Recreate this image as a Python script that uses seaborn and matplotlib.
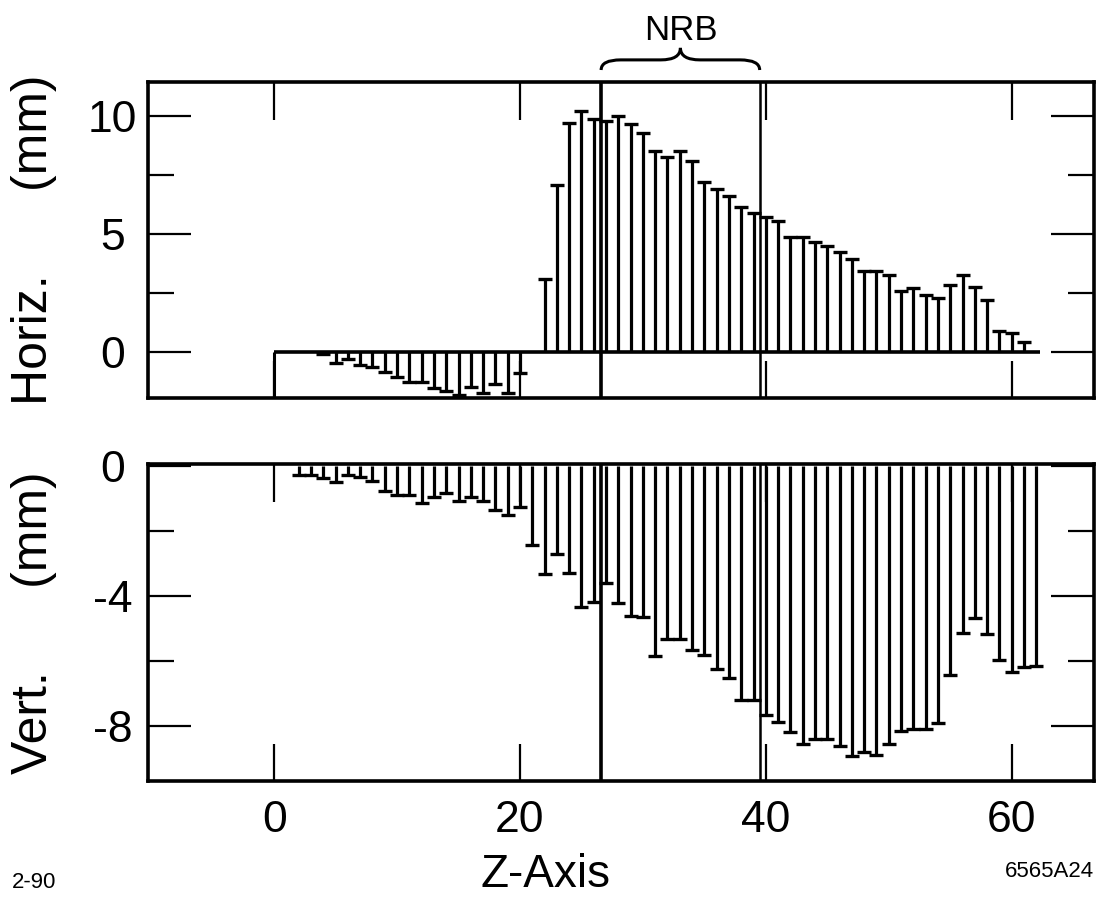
import seaborn as sns
import matplotlib.pyplot as plt
from matplotlib.path import Path
from matplotlib.patches import PathPatch
from matplotlib.ticker import FixedLocator

# Horizontal offsets (mm) along the Z axis
horiz_z = [4, 5, 6, 7, 8, 9, 10, 11, 12, 13, 14, 15, 16, 17, 18, 19, 20,
           22, 23, 24, 25, 26, 27, 28, 29, 30, 31, 32, 33, 34, 35, 36, 37, 38, 39, 40, 41,
           42, 43, 44, 45, 46, 47, 48, 49, 50, 51, 52, 53, 54, 55, 56, 57, 58, 59, 60, 61]
horiz_mm = [-0.12, -0.49, -0.31, -0.55, -0.66, -0.85, -1.08, -1.29, -1.29, -1.55, -1.68, -1.85,
            -1.50, -1.75, -1.38, -1.75, -0.90,
            3.10, 7.05, 9.70, 10.20, 9.88, 9.80, 9.98, 9.66, 9.28, 8.53, 8.24, 8.53, 8.10, 7.18,
            6.90, 6.62, 6.12, 5.88, 5.70, 5.55, 4.85, 4.85, 4.64, 4.46, 4.22, 3.94, 3.41, 3.41,
            3.23, 2.59, 2.70, 2.42, 2.28, 2.83, 3.23, 2.73, 2.19, 0.89, 0.77, 0.42]

# Vertical offsets (mm) along the Z axis
vert_z = [2, 3, 4, 5, 6, 7, 8, 9, 10, 11, 12, 13, 14, 15, 16, 17, 18, 19, 20, 21, 22, 23, 24,
          25, 26, 27, 28, 29, 30, 31, 32, 33, 34, 35, 36, 37, 38, 39, 40, 41, 42, 43, 44, 45,
          46, 47, 48, 49, 50, 51, 52, 53, 54, 55, 56, 57, 58, 59, 60, 61, 62]
vert_mm = [-0.28, -0.28, -0.38, -0.51, -0.28, -0.36, -0.46, -0.79, -0.89, -0.89, -1.15, -0.95,
           -0.85, -1.10, -0.95, -1.10, -1.36, -1.52, -1.26, -2.44, -3.32, -2.73, -3.30, -4.34,
           -4.19, -3.60, -4.23, -4.63, -4.66, -5.86, -5.35, -5.35, -5.66, -5.82, -6.27, -6.55,
           -7.21, -7.21, -7.67, -7.89, -8.19, -8.56, -8.41, -8.41, -8.62, -8.94, -8.83, -8.90,
           -8.56, -8.17, -8.11, -8.12, -7.92, -6.45, -5.16, -4.70, -5.17, -5.99, -6.35, -6.20,
           -6.16]

nrb_start, nrb_end = 26.6, 39.5
baseline_end = 62.3
x_ticks = [0, 20, 40, 60]

sns.set_style("white")
plt.rcParams['font.family'] = ['Liberation Sans', 'DejaVu Sans']
plt.rcParams['axes.unicode_minus'] = False
plt.rcParams['text.color'] = 'black'
plt.rcParams['axes.labelcolor'] = 'black'
plt.rcParams['xtick.color'] = 'black'
plt.rcParams['ytick.color'] = 'black'

fig = plt.figure(figsize=(11, 9.11), dpi=100)
ax_h = fig.add_axes([0.1341, 0.5631, 0.8605, 0.3472])
ax_v = fig.add_axes([0.1341, 0.1430, 0.8605, 0.3476])

# stems + caps
ax_h.vlines(horiz_z, 0, horiz_mm, color="black", lw=2.3)
sns.scatterplot(x=horiz_z, y=horiz_mm, marker="_", s=90, color="black", linewidth=2.4, ax=ax_h)
ax_v.vlines(vert_z, 0, vert_mm, color="black", lw=2.3)
sns.scatterplot(x=vert_z, y=vert_mm, marker="_", s=90, color="black", linewidth=2.4, ax=ax_v)

# zero line frame on the horizontal plot
ax_h.hlines(0, 0, baseline_end, color="black", lw=2.6)
ax_h.vlines(0, -2, 0, color="black", lw=2.2)

# NRB boundaries
for ax in (ax_h, ax_v):
    ax.axvline(nrb_start, color="black", lw=2.6)
    ax.axvline(nrb_end, color="black", lw=1.8)

ax_h.set_xlim(-10.3, 66.7)
ax_v.set_xlim(-10.3, 66.7)
ax_h.set_ylim(-1.97, 11.45)
ax_v.set_ylim(-9.7, 0.05)

ax_h.yaxis.set_major_locator(FixedLocator([0, 5, 10]))
ax_h.yaxis.set_minor_locator(FixedLocator([2.5, 7.5]))
ax_v.yaxis.set_major_locator(FixedLocator([-8, -4, 0]))
ax_v.yaxis.set_minor_locator(FixedLocator([-6, -2]))

for ax in (ax_h, ax_v):
    ax.set_xticks(x_ticks)
    for s in ax.spines.values():
        s.set_linewidth(2.6)
        s.set_color("black")
    ax.tick_params(axis="both", which="both", direction="in", top=True, right=True,
                   bottom=True, left=True, width=1.6, color="black", labelsize=32)
    ax.tick_params(axis="x", which="major", length=27, pad=14)
    ax.tick_params(axis="y", which="major", length=31, pad=25)
    ax.tick_params(axis="y", which="minor", length=19)
    plt.setp(ax.get_yticklabels(), ha="center")

ax_h.tick_params(axis="x", labelbottom=False)

ax_h.set_ylabel("Horiz.      (mm)", fontsize=36)
ax_v.set_ylabel("Vert.      (mm)", fontsize=36)
ax_h.yaxis.set_label_coords(-0.096, 0.5)
ax_v.yaxis.set_label_coords(-0.096, 0.5)

# NRB brace above the top panel
trans = ax_h.get_xaxis_transform()
xm = (nrb_start + nrb_end) / 2
d = 1.6
yb, yp, yt = 1.037, 1.069, 1.107
verts = [(nrb_start, yb), (nrb_start, yp), (nrb_start + d, yp),
         (xm - d, yp), (xm, yp), (xm, yt),
         (xm, yp), (xm + d, yp),
         (nrb_end - d, yp), (nrb_end, yp), (nrb_end, yb)]
codes = [Path.MOVETO, Path.CURVE3, Path.CURVE3,
         Path.LINETO, Path.CURVE3, Path.CURVE3,
         Path.CURVE3, Path.CURVE3,
         Path.LINETO, Path.CURVE3, Path.CURVE3]
ax_h.add_patch(PathPatch(Path(verts, codes), transform=trans, fill=False,
                         lw=2.2, color="black", clip_on=False))
ax_h.text(xm, 1.132, "NRB", transform=trans, ha="center", va="baseline", fontsize=25)

fig.text(0.496, 0.026, "Z-Axis", ha="center", va="baseline", fontsize=33)
fig.text(0.011, 0.025, "2-90", ha="left", va="baseline", fontsize=16)
fig.text(0.995, 0.037, "6565A24", ha="right", va="baseline", fontsize=16)

plt.savefig("out.png", dpi=100)
